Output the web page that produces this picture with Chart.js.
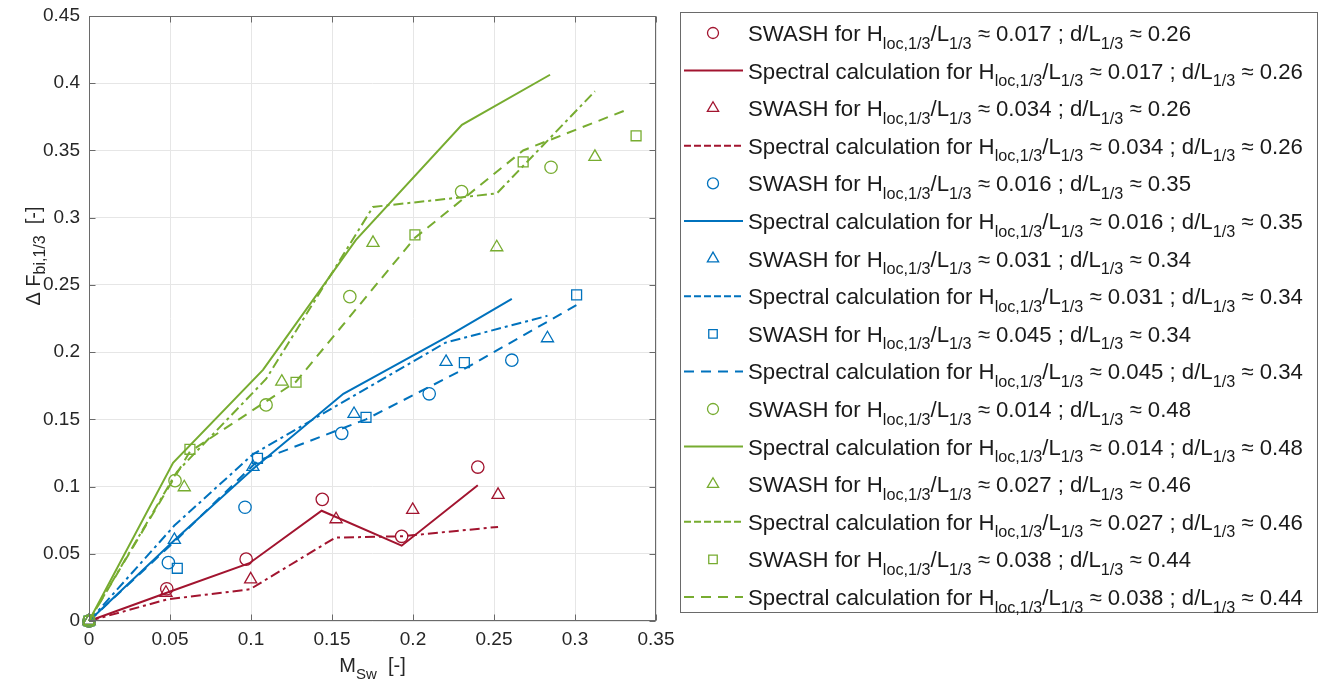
<!DOCTYPE html>
<html>
<head>
<meta charset="utf-8">
<script src="https://cdn.jsdelivr.net/npm/chart.js@4.4.1/dist/chart.umd.min.js"></script>
<style>
html,body{margin:0;padding:0;background:#fff;}
#wrap{width:1320px;height:686px;position:relative;}
</style>
</head>
<body>
<div id="wrap"><canvas id="c" width="1320" height="686"></canvas></div>
<script>
// ---------- DATA ----------
const xTickValues = [0, 0.05, 0.1, 0.15, 0.2, 0.25, 0.3, 0.35];
const yTickValues = [0, 0.05, 0.1, 0.15, 0.2, 0.25, 0.3, 0.35, 0.4, 0.45];

const steepness = ['0.017', '0.034', '0.016', '0.031', '0.045', '0.014', '0.027', '0.038'];
const relDepth  = ['0.26', '0.26', '0.35', '0.34', '0.34', '0.48', '0.46', '0.44'];

// red, H/L ~ 0.017
const swash1X = [0, 0.048, 0.097, 0.144, 0.193, 0.240];
const swash1Y = [0, 0.024, 0.046, 0.0905, 0.063, 0.1145];
const spec1X  = [0, 0.048, 0.099, 0.1436, 0.193, 0.240];
const spec1Y  = [0, 0.021, 0.043, 0.082, 0.056, 0.101];
// red, H/L ~ 0.034
const swash2X = [0, 0.0475, 0.0998, 0.1525, 0.1998, 0.2525];
const swash2Y = [0, 0.021, 0.031, 0.0757, 0.0826, 0.0938];
const spec2X  = [0, 0.048, 0.0994, 0.152, 0.193, 0.2525];
const spec2Y  = [0, 0.016, 0.0236, 0.062, 0.063, 0.070];
// blue, H/L ~ 0.016
const swash3X = [0, 0.049, 0.0963, 0.156, 0.210, 0.261];
const swash3Y = [0, 0.0434, 0.0846, 0.1396, 0.169, 0.194];
const spec3X  = [0, 0.0527, 0.1012, 0.157, 0.2204, 0.261];
const spec3Y  = [0, 0.060, 0.113, 0.169, 0.211, 0.2396];
// blue, H/L ~ 0.031
const swash4X = [0, 0.0527, 0.1012, 0.1636, 0.2204, 0.283];
const swash4Y = [0, 0.0603, 0.1146, 0.154, 0.1927, 0.2103];
const spec4X  = [0, 0.0527, 0.1012, 0.22, 0.283];
const spec4Y  = [0, 0.071, 0.124, 0.207, 0.227];
// blue, H/L ~ 0.045
const swash5X = [0, 0.0545, 0.104, 0.171, 0.2317, 0.301];
const swash5Y = [0, 0.0392, 0.121, 0.1515, 0.1922, 0.2426];
const spec5X  = [0, 0.0545, 0.104, 0.171, 0.2317, 0.301];
const spec5Y  = [0, 0.061, 0.119, 0.150, 0.1875, 0.235];
// green, H/L ~ 0.014
const swash6X = [0, 0.0531, 0.1093, 0.161, 0.230, 0.2852];
const swash6Y = [0, 0.1044, 0.1607, 0.2413, 0.3194, 0.3375];
const spec6X  = [0, 0.0519, 0.1074, 0.1648, 0.2302, 0.2846];
const spec6Y  = [0, 0.1176, 0.1868, 0.2835, 0.369, 0.4063];
// green, H/L ~ 0.027
const swash7X = [0, 0.0588, 0.119, 0.1753, 0.2517, 0.3123];
const swash7Y = [0, 0.0995, 0.178, 0.2813, 0.278, 0.3452];
const spec7X  = [0, 0.0543, 0.1093, 0.1753, 0.2517, 0.3123];
const spec7Y  = [0, 0.111, 0.18, 0.308, 0.318, 0.394];
// green, H/L ~ 0.038
const swash8X = [0, 0.0623, 0.1278, 0.2012, 0.268, 0.3377];
const swash8Y = [0, 0.1277, 0.1776, 0.2872, 0.3415, 0.3609];
const spec8X  = [0, 0.0623, 0.1278, 0.2012, 0.268, 0.3335];
const spec8Y  = [0, 0.126, 0.178, 0.285, 0.35, 0.381];

// ---------- STYLE ----------
const RED = '#A2142F', BLUE = '#0072BD', GREEN = '#77AC30';
const FONT = "'Liberation Sans', Arial, Helvetica, sans-serif";
const AXIS = '#6a6a6a';
const TEXT = '#262626';
const SOLID = [], DASHDOT = [10, 4, 3, 4], DASHED = [10, 7];

const pts = (xs, ys) => xs.map((x, i) => ({x: x, y: ys[i]}));

const series = [
  {sx: swash1X, sy: swash1Y, px: spec1X, py: spec1Y, c: RED, m: 'circle', d: SOLID},
  {sx: swash2X, sy: swash2Y, px: spec2X, py: spec2Y, c: RED, m: 'triangle', d: DASHDOT},
  {sx: swash3X, sy: swash3Y, px: spec3X, py: spec3Y, c: BLUE, m: 'circle', d: SOLID},
  {sx: swash4X, sy: swash4Y, px: spec4X, py: spec4Y, c: BLUE, m: 'triangle', d: DASHDOT},
  {sx: swash5X, sy: swash5Y, px: spec5X, py: spec5Y, c: BLUE, m: 'rect', d: DASHED},
  {sx: swash6X, sy: swash6Y, px: spec6X, py: spec6Y, c: GREEN, m: 'circle', d: SOLID},
  {sx: swash7X, sy: swash7Y, px: spec7X, py: spec7Y, c: GREEN, m: 'triangle', d: DASHDOT},
  {sx: swash8X, sy: swash8Y, px: spec8X, py: spec8Y, c: GREEN, m: 'rect', d: DASHED}
];

const markerRadius = {circle: 6.2, triangle: 7, rect: 7};

const datasets = [];
series.forEach((s, i) => {
  datasets.push({
    label: 'SWASH ' + i,
    data: pts(s.sx, s.sy),
    showLine: false,
    borderColor: s.c,
    backgroundColor: 'rgba(0,0,0,0)',
    pointStyle: s.m,
    pointRadius: markerRadius[s.m],
    pointBorderWidth: 1.3,
    pointBackgroundColor: 'rgba(0,0,0,0)',
    pointBorderColor: s.c,
    clip: 10,
    _legend: {kind: 'marker', style: s.m, color: s.c, idx: i},
    order: 100 - 2 * i
  });
  datasets.push({
    label: 'Spectral ' + i,
    data: pts(s.px, s.py),
    showLine: true,
    borderColor: s.c,
    backgroundColor: s.c,
    borderWidth: 2,
    borderDash: s.d,
    pointRadius: 0,
    tension: 0,
    clip: 10,
    _legend: {kind: 'line', dash: s.d, color: s.c, idx: i},
    order: 99 - 2 * i
  });
});

// ---------- HELPERS ----------
function drawRich(ctx, x, y, parts, size, subSize, subDy, color) {
  ctx.fillStyle = color;
  ctx.textBaseline = 'alphabetic';
  ctx.textAlign = 'left';
  for (const [t, sub] of parts) {
    ctx.font = (sub ? subSize : size) + 'px ' + FONT;
    ctx.fillText(t, x, y + (sub ? subDy : 0));
    x += ctx.measureText(t).width;
  }
  return x;
}
function richWidth(ctx, parts, size, subSize) {
  let w = 0;
  for (const [t, sub] of parts) {
    ctx.font = (sub ? subSize : size) + 'px ' + FONT;
    w += ctx.measureText(t).width;
  }
  return w;
}
function drawMarker(ctx, style, x, y, r) {
  ctx.beginPath();
  if (style === 'circle') {
    ctx.arc(x, y, r, 0, Math.PI * 2);
  } else if (style === 'triangle') {
    for (let k = 0; k < 3; k++) {
      const a = -Math.PI / 2 + k * 2 * Math.PI / 3;
      const px = x + Math.cos(a) * r, py = y + Math.sin(a) * r;
      if (k === 0) ctx.moveTo(px, py); else ctx.lineTo(px, py);
    }
    ctx.closePath();
  } else {
    const s = r * Math.SQRT1_2;
    ctx.rect(x - s, y - s, 2 * s, 2 * s);
  }
  ctx.stroke();
}
const fmt = v => String(parseFloat(Number(v).toFixed(2)));

// ---------- PLUGIN: box, inner ticks, titles, legend ----------
const decor = {
  id: 'decor',
  afterDraw(chart) {
    const ctx = chart.ctx, a = chart.chartArea;
    const xs = chart.scales.x, ys = chart.scales.y;
    ctx.save();
    ctx.strokeStyle = AXIS;
    ctx.lineWidth = 1;
    ctx.setLineDash([]);
    const L = Math.round(a.left) + 0.5, R = Math.round(a.right) - 0.5;
    const T = Math.round(a.top) + 0.5, B = Math.round(a.bottom) - 0.5;
    ctx.strokeRect(L, T, R - L, B - T);
    ctx.beginPath();
    xs.ticks.forEach(t => {
      const p = Math.round(xs.getPixelForValue(t.value)) + 0.5;
      ctx.moveTo(p, B); ctx.lineTo(p, B - 6);
      ctx.moveTo(p, T); ctx.lineTo(p, T + 6);
    });
    ys.ticks.forEach(t => {
      const p = Math.round(ys.getPixelForValue(t.value)) + 0.5;
      ctx.moveTo(L, p); ctx.lineTo(L + 6, p);
      ctx.moveTo(R, p); ctx.lineTo(R - 6, p);
    });
    ctx.stroke();

    // x title
    const xParts = [['M', false], ['Sw', true], ['  [-]', false]];
    const xw = richWidth(ctx, xParts, 20, 15);
    drawRich(ctx, (a.left + a.right) / 2 - xw / 2, 672, xParts, 20, 15, 7, TEXT);

    // y title
    const yParts = [['\u0394 F', false], ['bi,1/3', true], ['  [-]', false]];
    const yw = richWidth(ctx, yParts, 20, 16);
    ctx.save();
    ctx.translate(40, 256);
    ctx.rotate(-Math.PI / 2);
    drawRich(ctx, -yw / 2, 0, yParts, 20, 16, 5, TEXT);
    ctx.restore();

    // legend
    const bx = 680.5, by = 12.5, bw = 637, bh = 600;
    ctx.fillStyle = '#fff';
    ctx.fillRect(bx, by, bw, bh);
    ctx.strokeStyle = AXIS;
    ctx.lineWidth = 1;
    ctx.strokeRect(bx, by, bw, bh);
    chart.data.datasets.forEach((ds, k) => {
      const lg = ds._legend;
      const cy = 33 + k * 37.6;
      ctx.strokeStyle = lg.color;
      if (lg.kind === 'marker') {
        ctx.lineWidth = 1.3;
        ctx.setLineDash([]);
        const rr = lg.style === 'circle' ? 5.5 : (lg.style === 'triangle' ? 6.5 : 6);
        drawMarker(ctx, lg.style, 713, cy, rr);
      } else {
        ctx.lineWidth = 2;
        ctx.setLineDash(lg.dash === DASHDOT ? [7, 3] : (lg.dash === DASHED ? [10, 7] : []));
        ctx.beginPath();
        ctx.moveTo(684, cy); ctx.lineTo(743, cy);
        ctx.stroke();
        ctx.setLineDash([]);
      }
      const head = lg.kind === 'marker' ? 'SWASH for H' : 'Spectral calculation for H';
      const parts = [[head, false], ['loc,1/3', true], ['/L', false], ['1/3', true],
        [' \u2248 ' + steepness[lg.idx] + ' ; d/L', false], ['1/3', true], [' \u2248 ' + relDepth[lg.idx], false]];
      drawRich(ctx, 748, cy + 8, parts, 22.2, 16.2, 7.5, '#1a1a1a');
    });
    ctx.restore();
  }
};

// ---------- CHART ----------
new Chart(document.getElementById('c'), {
  type: 'scatter',
  data: {datasets: datasets},
  options: {
    responsive: false,
    animation: false,
    events: [],
    layout: {padding: {left: 0, top: 16, right: 664, bottom: 0}},
    plugins: {legend: {display: false}, tooltip: {enabled: false}, title: {display: false}},
    scales: {
      x: {
        type: 'linear', min: 0, max: 0.35,
        afterBuildTicks: s => { s.ticks = xTickValues.map(v => ({value: v})); },
        afterFit: s => { s.height = 65; s.paddingLeft = 0; s.paddingRight = 0; s.paddingTop = 0; s.paddingBottom = 0; },
        grid: {color: '#e6e6e6', lineWidth: 1, drawTicks: false},
        border: {display: false},
        ticks: {padding: 7, color: TEXT, font: {family: FONT, size: 19}, callback: v => fmt(v), maxRotation: 0, autoSkip: false}
      },
      y: {
        type: 'linear', min: 0, max: 0.45,
        afterBuildTicks: s => { s.ticks = yTickValues.map(v => ({value: v})); },
        afterFit: s => { s.width = 89; s.paddingLeft = 0; s.paddingRight = 0; s.paddingTop = 0; s.paddingBottom = 0; },
        grid: {color: '#e6e6e6', lineWidth: 1, drawTicks: false},
        border: {display: false},
        ticks: {padding: 9, color: TEXT, font: {family: FONT, size: 19}, callback: v => fmt(v), autoSkip: false}
      }
    }
  },
  plugins: [decor]
});
</script>
</body>
</html>
